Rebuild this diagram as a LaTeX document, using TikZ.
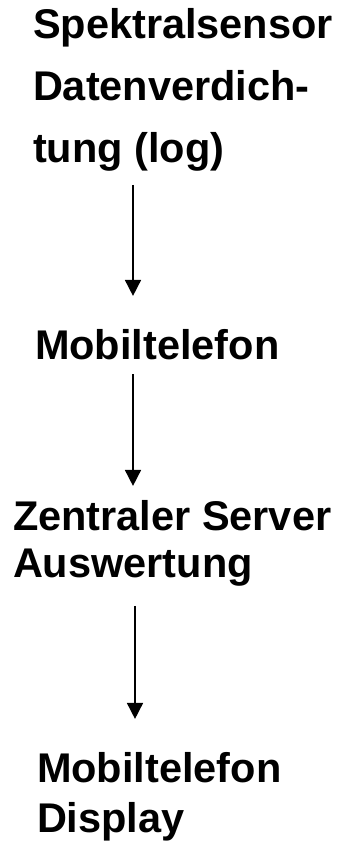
\documentclass[tikz,border=0pt]{standalone}
\usepackage{fontspec}
\setmainfont{Liberation Sans}
\usetikzlibrary{arrows.meta}

\begin{document}
\begin{tikzpicture}[x=1pt,y=-1pt]
\tikzstyle{stage}=[inner sep=0pt,outer sep=0pt,align=left,anchor=base west]
\tikzstyle{flow}=[line width=1.6pt,-{Triangle[length=16pt,width=16pt]}]

\useasboundingbox (0,0) rectangle (345,845);

\node at (33,163) [stage,font=\fontsize{41.5}{62}\selectfont\bfseries] (sensor) {Spektralsensor\\Datenverdich-\\tung (log)};

\node at (35,359) [stage,font=\fontsize{41.5}{47}\selectfont\bfseries] (phone) {Mobiltelefon};

\node at (13,577) [stage,font=\fontsize{41.5}{47}\selectfont\bfseries] (server) {Zentraler Server\\Auswertung};

\node at (37,832) [stage,font=\fontsize{41.5}{50}\selectfont\bfseries] (display) {Mobiltelefon\\Display};


\draw[flow,shorten <=13pt,shorten >=33pt] (sensor.south -| 133,0) -- (phone.north -| 133,0);
\draw[flow,shorten <=15pt,shorten >=14pt] (phone.south -| 133,0) -- (server.north -| 133,0);
\draw[flow,shorten <=20pt,shorten >=33pt] (server.south -| 135,0) -- (display.north -| 135,0);

\end{tikzpicture}
\end{document}
